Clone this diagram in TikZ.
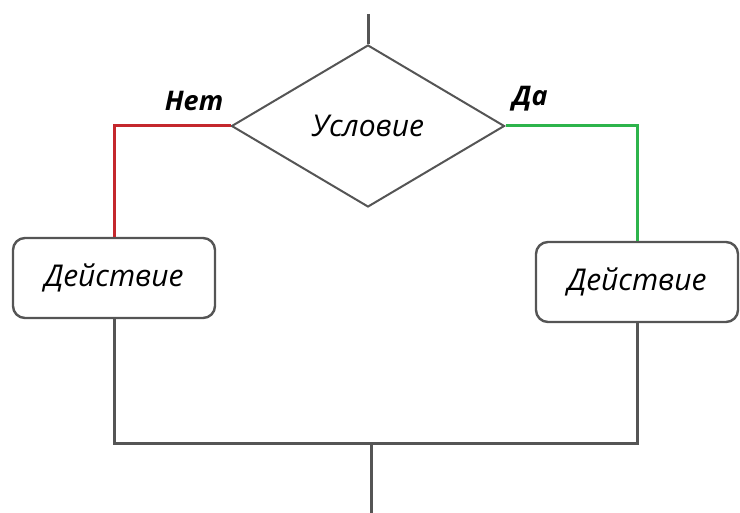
\documentclass[tikz,border=0pt]{standalone}
\usepackage{fontspec}
\setmainfont{Open Sans}
\usetikzlibrary{shapes.geometric,positioning}

\definecolor{linegray}{RGB}{85,85,85}
\definecolor{nored}{RGB}{196,40,45}
\definecolor{yesgreen}{RGB}{45,180,75}

\begin{document}
\begin{tikzpicture}[
				x=1pt, y=-1pt,
				decision/.style={diamond, draw=linegray, line width=2pt, aspect=1.69, minimum width=273pt, minimum height=162pt, inner sep=0pt, font=\fontsize{30}{34}\selectfont\itshape},
				action/.style={rectangle, rounded corners=12pt, draw=linegray, line width=2.4pt, minimum width=202pt, minimum height=80pt, font=\fontsize{30}{34}\selectfont\itshape},
				branch/.style={font=\fontsize{27}{30}\selectfont\bfseries\itshape},
				flow/.style={draw=linegray, line width=3pt},
				nopath/.style={draw=nored, line width=3pt},
				yespath/.style={draw=yesgreen, line width=3pt}
				]
				\useasboundingbox (0,0) rectangle (740,513);
				
				% Blocchi
				\node[decision] (cond) at (368,126) {Условие};
				\node[action] (actno) at (114,278) {Действие};
				\node[action] (actyes) at (637,282) {Действие};
				
				% Punti liberi
				\coordinate (start) at (368,14);
				\coordinate (merge) at (371,444);
				\coordinate (finish) at (371,513);
				
				% Etichette
				\node[branch] (nolbl) at (194,101) {Нет};
				\node[branch] (yeslbl) at (530,99) {Да};
				
				% Linee
				\draw[flow] (start) -- (cond.north);
				\draw[nopath] (cond.west) -| (actno.north);
				\draw[yespath] (cond.east) -| (actyes.north);
				\draw[flow] (actno.south) |- (merge) -| (actyes.south);
				\draw[flow] (merge) -- (finish);
			\end{tikzpicture}
\end{document}
